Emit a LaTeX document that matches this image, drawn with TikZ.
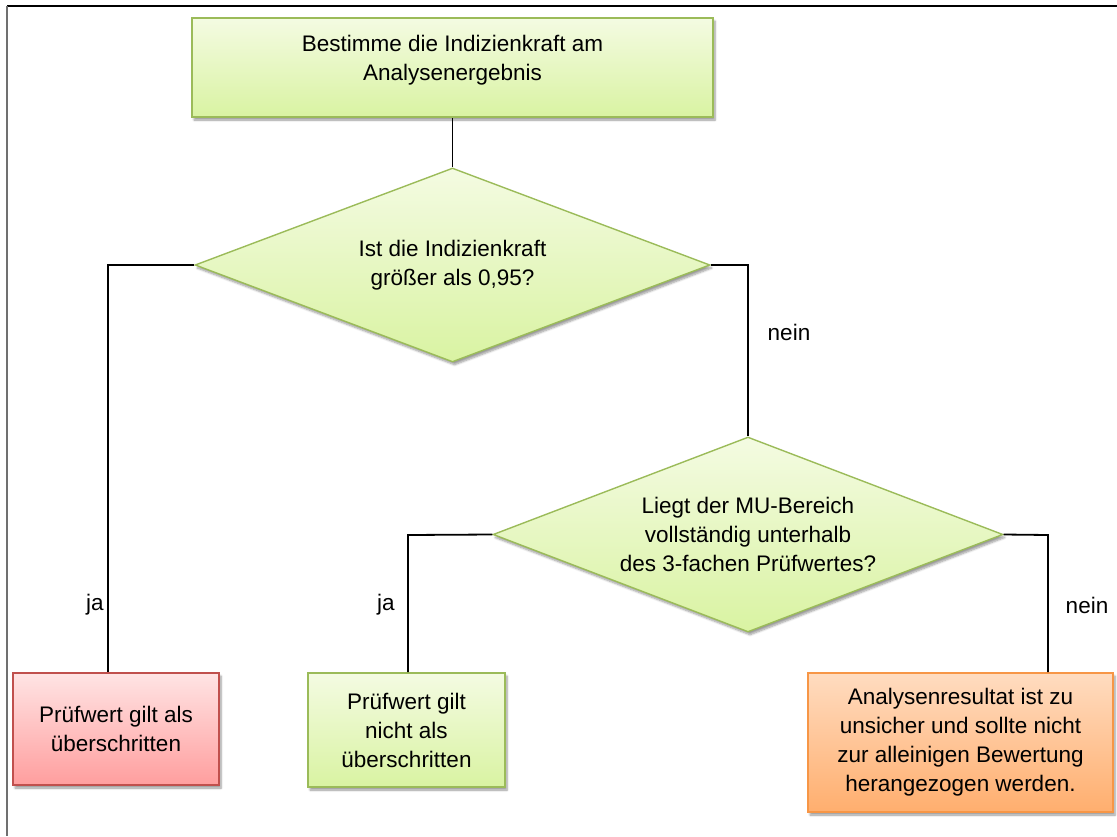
\documentclass[tikz,border=0pt]{standalone}
\usepackage{fontspec}
\setmainfont{Liberation Sans}
\usepackage{xcolor}
\usetikzlibrary{positioning, shapes.geometric, shadows.blur, calc}
\definecolor{okgreen}{HTML}{9BBB59}
\definecolor{oktop}{HTML}{F4FBE2}
\definecolor{okbottom}{HTML}{D9F3A2}
\definecolor{failred}{HTML}{C0504D}
\definecolor{failtop}{HTML}{FFE4E4}
\definecolor{failbottom}{HTML}{FF9E9E}
\definecolor{warnorange}{HTML}{F79646}
\definecolor{warntop}{HTML}{FFDCC0}
\definecolor{warnbottom}{HTML}{FFAE6E}
\definecolor{framegray}{HTML}{707070}

\begin{document}
\begin{tikzpicture}[
    x=1pt, y=-1pt,
    font=\fontsize{22.5}{29}\selectfont,
    procbox/.style={draw=#1, line width=1.6pt, align=center, inner sep=0pt,
        blur shadow={shadow xshift=2pt, shadow yshift=-3pt, shadow blur steps=6, shadow opacity=40}},
    decision/.style={draw=okgreen, line width=1.4pt, shape=diamond, aspect=2.65,
        align=center, inner sep=0pt, top color=oktop, bottom color=okbottom,
        blur shadow={shadow xshift=2pt, shadow yshift=-3pt, shadow blur steps=6, shadow opacity=40}},
    conn/.style={line width=1.8pt, black},
    lbl/.style={inner sep=1pt},
]
    \useasboundingbox (0,0) rectangle (1117,836);

    % frame of the screenshot
    \draw[line width=2pt, black] (7,6) -- (1117,6);
    \draw[line width=2pt, framegray] (7,6) -- (7,836);

    % start
    \node[procbox=okgreen, top color=oktop, bottom color=okbottom,
          minimum width=521pt, minimum height=99pt] (start) at (452.5,67.5)
        {Bestimme die Indizienkraft am\\Analysenergebnis\\[-10pt]};

    % decisions
    \node[decision, minimum width=515pt, minimum height=194pt] (q1) at (452.5,265)
        {Ist die Indizienkraft\\größer als 0,95?};
    \node[decision, minimum width=510pt, minimum height=195pt] (q2) at (748,534.5)
        {Liegt der MU-Bereich\\vollständig unterhalb\\des 3-fachen Prüfwertes?};

    % results
    \node[procbox=failred, top color=failtop, bottom color=failbottom,
          minimum width=206pt, minimum height=112pt] (exceeded) at (116,729)
        {Prüfwert gilt als\\überschritten};
    \node[procbox=okgreen, top color=oktop, bottom color=okbottom,
          minimum width=197pt, minimum height=114pt] (notexceeded) at (406.5,730)
        {Prüfwert gilt\\nicht als\\überschritten};
    \node[procbox=warnorange, top color=warntop, bottom color=warnbottom,
          minimum width=305pt, minimum height=139pt] (unsure) at (960.5,742.5)
        {Analysenresultat ist zu\\unsicher und sollte nicht\\zur alleinigen Bewertung\\herangezogen werden.};

    % corners of the connectors
    \coordinate (q1ja) at (108,265);
    \coordinate (q1nein) at (748,265);
    \coordinate (q2ja) at (408,535);
    \coordinate (q2nein) at (1048,535);

    % connectors
    \draw[conn] (start) -- (q1);
    \draw[conn] (q1.west) -- (q1ja) -- (q1ja |- exceeded.north);
    \draw[conn] (q1.east) -- (q1nein) -- (q2.north);
    \draw[conn] (q2.west) -- (q2ja) -- (q2ja |- notexceeded.north);
    \draw[conn] (q2.east) -- (q2nein) -- (q2nein |- unsure.north);

    % labels
    \node[lbl] (ja1) at (95,605) {ja};
    \node[lbl] (nein1) at (789,332) {nein};
    \node[lbl] (ja2) at (386,605) {ja};
    \node[lbl] (nein2) at (1087,605) {nein};
\end{tikzpicture}
\end{document}
